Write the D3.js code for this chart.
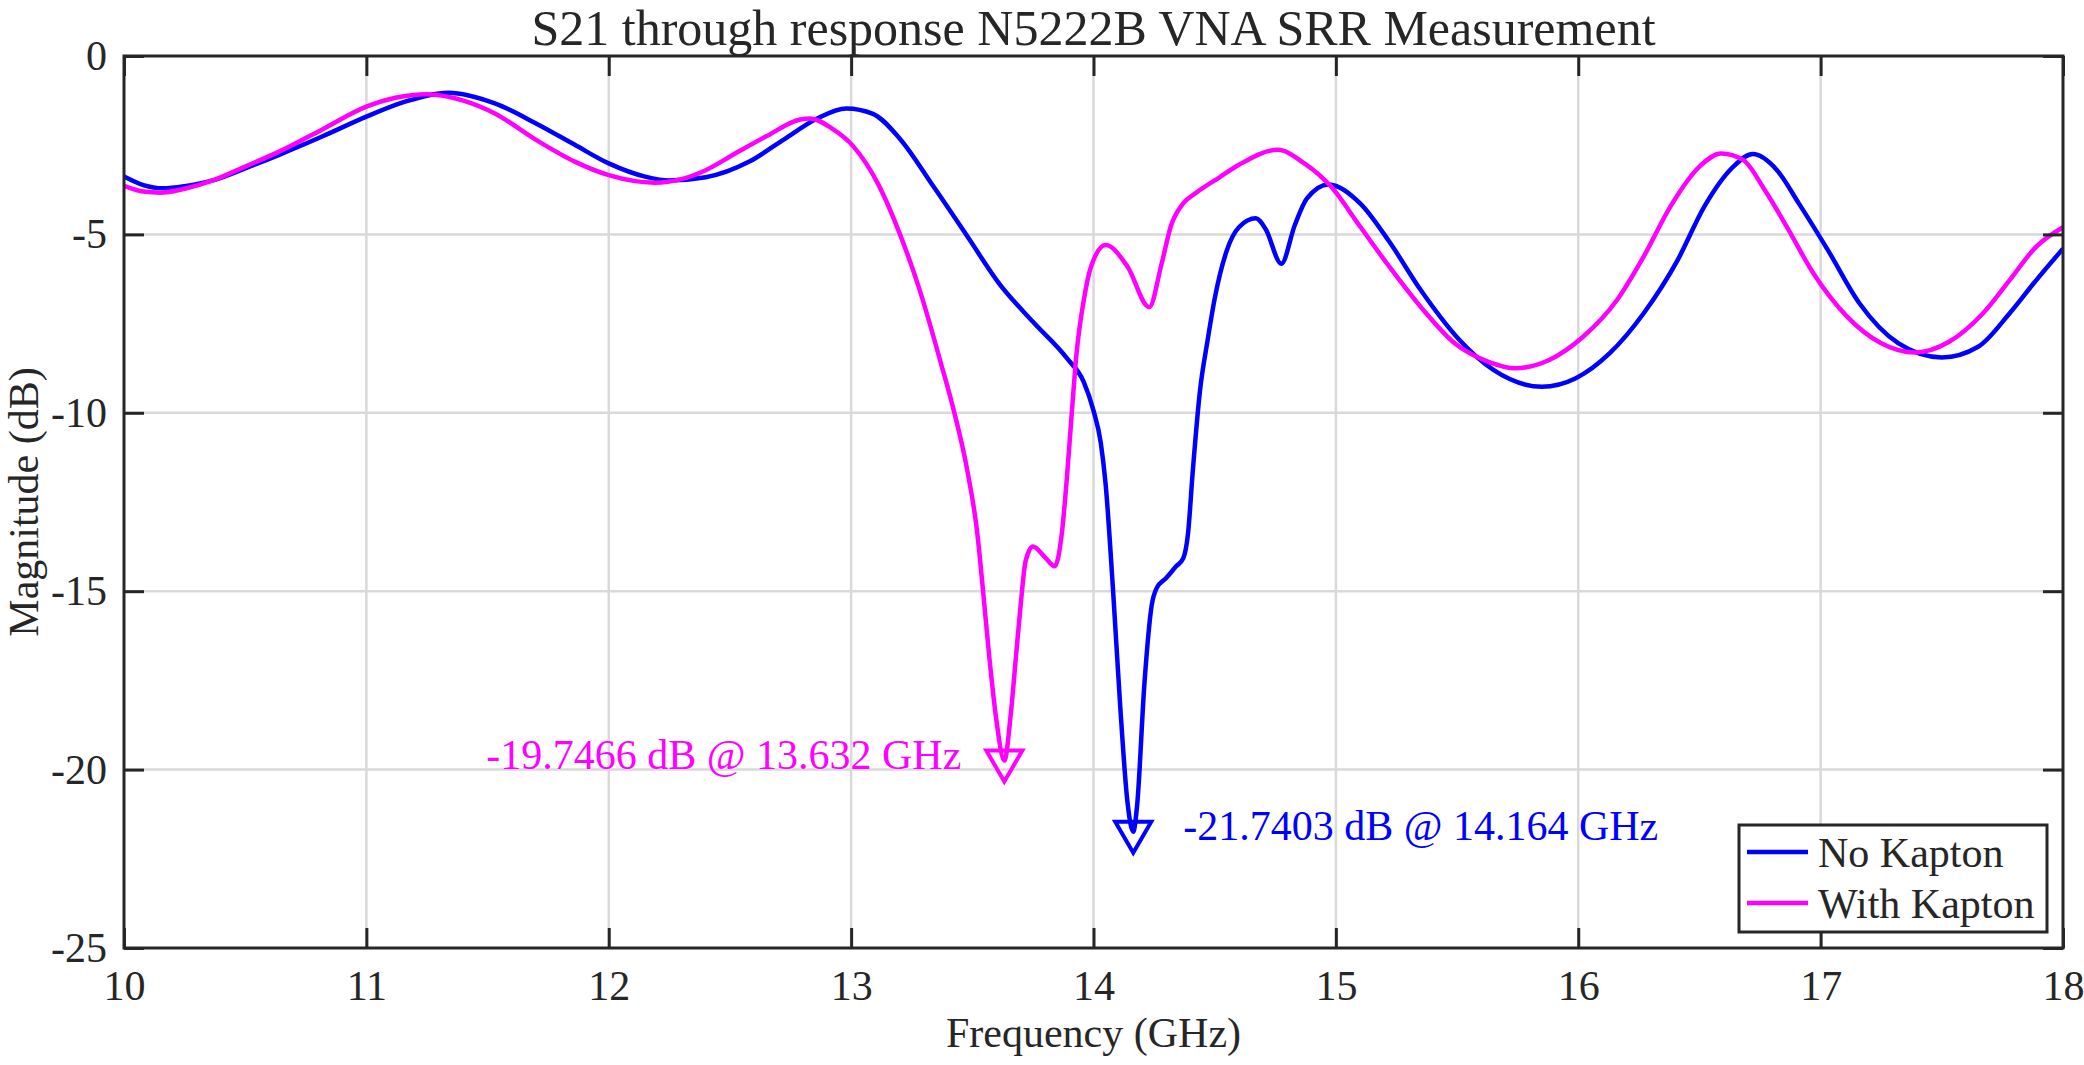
<!DOCTYPE html>
<html>
<head>
<meta charset="utf-8">
<script src="https://cdn.jsdelivr.net/npm/d3@7"></script>
<style>
  html, body { margin: 0; padding: 0; background: #fff; }
  svg text { font-family: "Liberation Serif", "Times New Roman", serif; fill: #262626; }
</style>
</head>
<body>
<div id="chart"></div>
<script>
// S21 through response, No Kapton (GHz, dB)
var freqNoKapton = [10.00, 10.08, 10.16, 10.25, 10.37, 10.50, 10.64, 10.82, 11.00, 11.16, 11.34, 11.53, 11.70, 11.86, 12.00, 12.15, 12.25, 12.40, 12.58, 12.72, 12.86, 12.98, 13.09, 13.20, 13.34, 13.48, 13.61, 13.75, 13.89, 13.96, 14.00, 14.03, 14.05, 14.08, 14.11, 14.14, 14.164, 14.18, 14.21, 14.24, 14.26, 14.30, 14.34, 14.37, 14.39, 14.41, 14.44, 14.47, 14.50, 14.55, 14.60, 14.67, 14.71, 14.775, 14.83, 14.88, 14.97, 15.10, 15.22, 15.35, 15.51, 15.65, 15.85, 15.99, 16.13, 16.27, 16.41, 16.52, 16.64, 16.72, 16.82, 16.91, 17.03, 17.16, 17.32, 17.50, 17.65, 17.78, 17.89, 18.00];
var magNoKapton = [-3.38, -3.62, -3.71, -3.65, -3.48, -3.15, -2.77, -2.25, -1.70, -1.28, -1.03, -1.33, -1.89, -2.49, -3.01, -3.38, -3.49, -3.40, -2.96, -2.35, -1.75, -1.47, -1.62, -2.31, -3.66, -5.06, -6.37, -7.45, -8.47, -9.14, -9.94, -10.84, -12.0, -14.9, -18.2, -20.9, -21.74, -21.0, -17.6, -15.4, -14.92, -14.63, -14.31, -14.08, -13.38, -11.6, -9.34, -8.0, -6.8, -5.45, -4.80, -4.55, -4.85, -5.82, -4.75, -4.00, -3.60, -4.13, -5.20, -6.56, -7.96, -8.80, -9.27, -9.03, -8.33, -7.21, -5.72, -4.22, -3.10, -2.75, -3.20, -4.13, -5.44, -6.93, -8.05, -8.45, -8.15, -7.21, -6.28, -5.40];

// S21 through response, With Kapton (GHz, dB)
var freqWithKapton = [10.00, 10.08, 10.15, 10.25, 10.37, 10.50, 10.64, 10.82, 11.00, 11.12, 11.25, 11.40, 11.53, 11.70, 11.86, 12.00, 12.19, 12.30, 12.40, 12.53, 12.65, 12.79, 12.83, 12.92, 13.01, 13.11, 13.20, 13.28, 13.37, 13.42, 13.48, 13.52, 13.545, 13.57, 13.60, 13.632, 13.66, 13.68, 13.70, 13.72, 13.75, 13.80, 13.84, 13.87, 13.89, 13.91, 13.93, 13.96, 13.99, 14.05, 14.14, 14.23, 14.28, 14.32, 14.37, 14.42, 14.52, 14.60, 14.76, 14.87, 14.98, 15.10, 15.22, 15.35, 15.49, 15.63, 15.74, 15.88, 16.02, 16.16, 16.27, 16.38, 16.50, 16.59, 16.68, 16.77, 16.86, 16.97, 17.11, 17.25, 17.39, 17.53, 17.67, 17.78, 17.89, 18.00];
var magWithKapton = [-3.64, -3.80, -3.83, -3.72, -3.48, -3.10, -2.68, -2.05, -1.42, -1.17, -1.07, -1.25, -1.61, -2.35, -2.96, -3.34, -3.55, -3.45, -3.20, -2.70, -2.25, -1.78, -1.75, -2.03, -2.54, -3.57, -4.97, -6.50, -8.60, -9.84, -11.64, -13.34, -15.04, -16.84, -18.65, -19.7466, -18.35, -16.84, -15.35, -14.15, -13.75, -14.05, -14.30, -13.34, -11.84, -10.04, -8.34, -6.84, -5.90, -5.30, -5.90, -7.04, -5.85, -4.75, -4.13, -3.85, -3.40, -3.05, -2.63, -3.01, -3.66, -4.78, -5.90, -7.03, -8.05, -8.57, -8.75, -8.52, -7.87, -6.84, -5.62, -4.22, -3.10, -2.73, -2.91, -3.76, -4.78, -6.09, -7.31, -8.05, -8.31, -8.01, -7.21, -6.28, -5.34, -4.80];

var seriesNames = ["No Kapton", "With Kapton"];
var seriesColors = ["#0000ff", "#ff00ff"];

// minimum markers
var markerFreq = [14.164, 13.632];
var markerMag = [-21.7403, -19.7466];
var markerLabels = ["-21.7403 dB @ 14.164 GHz", "-19.7466 dB @ 13.632 GHz"];

var xTicks = [10, 11, 12, 13, 14, 15, 16, 17, 18];
var yTicks = [0, -5, -10, -15, -20, -25];

var width = 2084, height = 1065;
var margin = {top: 56, right: 21, bottom: 117, left: 124};
var innerW = width - margin.left - margin.right;
var innerH = height - margin.top - margin.bottom;
var fontSize = 42;
var tickLen = 20;
var axisColor = "#262626";

var svg = d3.select("#chart").append("svg")
  .attr("width", width)
  .attr("height", height);

var g = svg.append("g")
  .attr("transform", "translate(" + margin.left + "," + margin.top + ")");

var x = d3.scaleLinear().domain([10, 18]).range([0, innerW]);
var y = d3.scaleLinear().domain([-25, 0]).range([innerH, 0]);

// grid
g.append("g").attr("class", "grid")
  .selectAll("line.gx")
  .data(xTicks.slice(1, -1))
  .enter().append("line")
  .attr("x1", d => x(d)).attr("x2", d => x(d))
  .attr("y1", 0).attr("y2", innerH)
  .style("stroke", "#d9d9d9").style("stroke-width", 2.5);

g.append("g").attr("class", "grid")
  .selectAll("line.gy")
  .data(yTicks.slice(1, -1))
  .enter().append("line")
  .attr("y1", d => y(d)).attr("y2", d => y(d))
  .attr("x1", 0).attr("x2", innerW)
  .style("stroke", "#d9d9d9").style("stroke-width", 2.5);

// series lines
var line = d3.line()
  .x(d => x(d[0]))
  .y(d => y(d[1]))
  .curve(d3.curveMonotoneX);

var series = [
  d3.zip(freqNoKapton, magNoKapton),
  d3.zip(freqWithKapton, magWithKapton)
];

g.append("defs").append("clipPath").attr("id", "clip")
  .append("rect").attr("width", innerW).attr("height", innerH);

g.append("g").attr("clip-path", "url(#clip)")
  .selectAll("path.series")
  .data(series)
  .enter().append("path")
  .attr("class", "series")
  .attr("d", line)
  .style("fill", "none")
  .style("stroke", (d, i) => seriesColors[i])
  .style("stroke-width", 4.5)
  .style("stroke-linejoin", "round");

// axes (ticks inward on all sides)
function styleAxis(sel) {
  sel.select(".domain").remove();
  sel.selectAll(".tick line").style("stroke", axisColor).style("stroke-width", 3);
  sel.selectAll(".tick text").style("font-size", fontSize + "px").style("fill", axisColor);
}

var fmt = d => String(d);

var xAxis = g.append("g")
  .attr("transform", "translate(0," + innerH + ")")
  .call(d3.axisBottom(x).tickValues(xTicks).tickSize(-tickLen).tickPadding(22).tickFormat(fmt));
styleAxis(xAxis);
xAxis.selectAll(".tick text").attr("dy", "0.71em");

var xAxisTop = g.append("g")
  .call(d3.axisTop(x).tickValues(xTicks).tickSize(-tickLen).tickFormat(""));
styleAxis(xAxisTop);

var yAxis = g.append("g")
  .call(d3.axisLeft(y).tickValues(yTicks).tickSize(-tickLen).tickPadding(17).tickFormat(fmt));
styleAxis(yAxis);

var yAxisRight = g.append("g")
  .attr("transform", "translate(" + innerW + ",0)")
  .call(d3.axisRight(y).tickValues(yTicks).tickSize(-tickLen).tickFormat(""));
styleAxis(yAxisRight);

// box
g.append("rect")
  .attr("x", 0).attr("y", 0)
  .attr("width", innerW).attr("height", innerH)
  .style("fill", "none")
  .style("stroke", axisColor)
  .style("stroke-width", 3);

// minimum markers
var markers = g.append("g").selectAll("g.marker")
  .data(markerFreq)
  .enter().append("g")
  .attr("class", "marker")
  .attr("transform", (d, i) => "translate(" + x(d) + "," + y(markerMag[i]) + ")");

markers.append("path")
  .attr("d", "M-18,-10 L18,-10 L0,21 Z")
  .style("fill", "none")
  .style("stroke", (d, i) => seriesColors[i])
  .style("stroke-width", 4)
  .style("stroke-linejoin", "miter");

markers.append("text")
  .text((d, i) => markerLabels[i])
  .attr("x", (d, i) => i === 0 ? 50 : -43)
  .attr("y", 8)
  .style("text-anchor", (d, i) => i === 0 ? "start" : "end")
  .style("font-size", fontSize + "px")
  .style("fill", (d, i) => seriesColors[i]);

// title and axis labels
svg.append("text")
  .attr("x", margin.left + innerW / 2)
  .attr("y", 45)
  .style("text-anchor", "middle")
  .style("font-size", "50px")
  .text("S21 through response N5222B VNA SRR Measurement");

svg.append("text")
  .attr("x", margin.left + innerW / 2)
  .attr("y", 1047)
  .style("text-anchor", "middle")
  .style("font-size", fontSize + "px")
  .text("Frequency (GHz)");

svg.append("text")
  .attr("transform", "translate(38," + (margin.top + innerH / 2) + ") rotate(-90)")
  .style("text-anchor", "middle")
  .style("font-size", fontSize + "px")
  .text("Magnitude (dB)");

// legend
var legend = svg.append("g").attr("transform", "translate(1739,825)");
legend.append("rect")
  .attr("width", 308).attr("height", 107)
  .style("fill", "#fff")
  .style("stroke", axisColor)
  .style("stroke-width", 3);

var items = legend.selectAll("g.item")
  .data(seriesNames)
  .enter().append("g")
  .attr("class", "item")
  .attr("transform", (d, i) => "translate(0," + (27 + i * 51) + ")");

items.append("line")
  .attr("x1", 8).attr("x2", 69)
  .style("stroke", (d, i) => seriesColors[i])
  .style("stroke-width", 4.5);

items.append("text")
  .attr("x", 79).attr("dy", "0.35em")
  .style("font-size", fontSize + "px")
  .text(d => d);
</script>
</body>
</html>
